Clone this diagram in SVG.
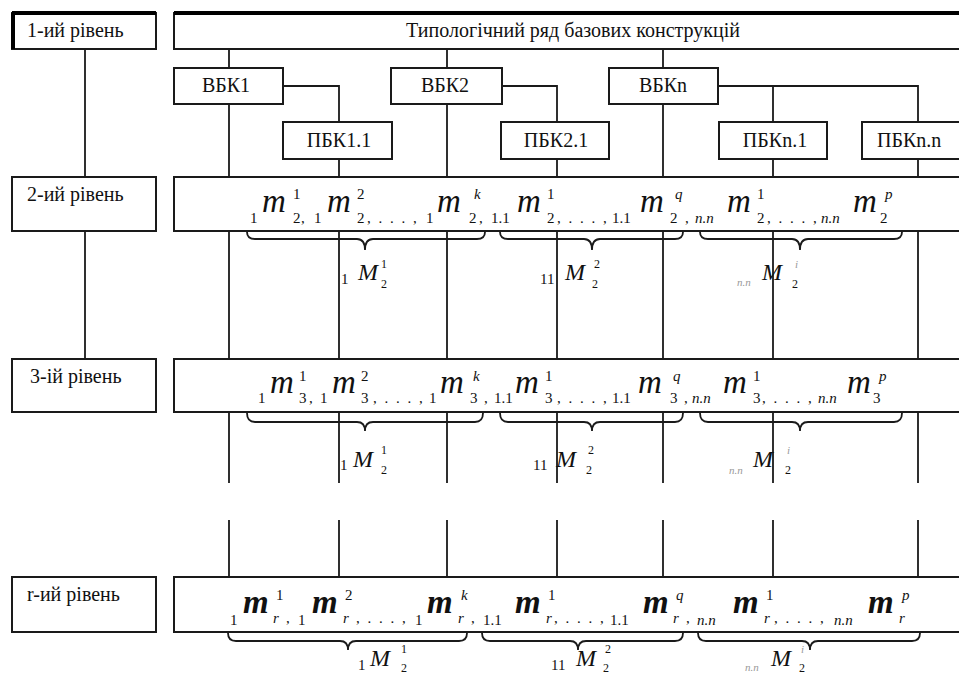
<svg xmlns="http://www.w3.org/2000/svg" width="959" height="675" viewBox="0 0 959 675">
<style>
.box{fill:#fff;stroke:#1a1a1a;stroke-width:2}
.thick{stroke:#000;stroke-width:4;fill:none}
.ln{fill:none;stroke:#1a1a1a;stroke-width:1.8}
.br{fill:none;stroke:#1a1a1a;stroke-width:1.8}
text{font-family:'Liberation Serif','DejaVu Serif','Times New Roman',serif}
.lbl{font-size:20px;fill:#111}
.ctr{text-anchor:middle}
.f{fill:#111}
.m{font-size:33px;font-style:italic}
.mb{font-size:33px;font-style:italic;font-weight:bold}
.s{font-size:15px}
.si{font-size:15px;font-style:italic}
.p{font-size:15px;letter-spacing:2px}
.M{font-size:24px;font-style:italic}
.ms{font-size:12px}
.g{font-size:11px;font-style:italic;fill:#999}
</style>
<rect width="959" height="675" fill="#fff"/>

<g id="connectors">
<path class="ln" d="M85 49V177M85 231V359"/>
<path class="ln" d="M229 49V68M447 49V68M663 49V68"/>
<path class="ln" d="M283 86H339V122M502 86H557V122M718 86H918V122M773 86V122"/>
<path class="ln" d="M229 104V177M339 159V177M447 104V177M557 159V177M663 104V177M773 159V177M918 159V177"/>
<path class="ln" d="M229 231V359M339 231V359M447 231V359M557 231V359M663 231V359M773 231V359M918 231V359"/>
<path class="ln" d="M229 412V483M339 412V483M447 412V483M557 412V483M663 412V483M773 412V483M918 412V483"/>
<path class="ln" d="M229 520V577M339 520V577M447 520V577M557 520V577M663 520V577M773 520V577M918 520V577"/>
</g>

<g id="level1">
<rect class="box" x="12" y="13" width="144" height="36"/>
<path class="thick" d="M12 13H156M13 13V49"/>
<text class="lbl" x="27" y="37" font-family="Liberation Serif, DejaVu Serif, serif">1-ий рівень</text>
</g>
<g id="level2">
<rect class="box" x="12" y="177" width="144" height="54"/>
<text class="lbl" x="27" y="201" font-family="Liberation Serif, DejaVu Serif, serif">2-ий рівень</text>
</g>
<g id="level3">
<rect class="box" x="12" y="359" width="144" height="53"/>
<text class="lbl" x="30" y="383" font-family="Liberation Serif, DejaVu Serif, serif">3-ій рівень</text>
</g>
<g id="levelr">
<rect class="box" x="12" y="577" width="144" height="55"/>
<text class="lbl" x="27" y="601" font-family="Liberation Serif, DejaVu Serif, serif">r-ий рівень</text>
</g>

<g id="title">
<rect class="box" x="174" y="13" width="800" height="36"/>
<path class="thick" d="M174 13H974"/>
<text class="lbl ctr" x="573" y="37" font-family="Liberation Serif, DejaVu Serif, serif">Типологічний ряд базових конструкцій</text>
</g>

<g id="vbk1"><rect class="box" x="174" y="68" width="109" height="36"/><text class="lbl ctr" x="226" y="92">ВБК1</text></g>
<g id="vbk2"><rect class="box" x="391" y="68" width="111" height="36"/><text class="lbl ctr" x="445" y="92">ВБК2</text></g>
<g id="vbkn"><rect class="box" x="609" y="68" width="109" height="36"/><text class="lbl ctr" x="663" y="92">ВБКn</text></g>
<g id="pbk11"><rect class="box" x="283" y="122" width="109" height="37"/><text class="lbl ctr" x="339" y="147">ПБК1.1</text></g>
<g id="pbk21"><rect class="box" x="501" y="122" width="108" height="37"/><text class="lbl ctr" x="556" y="147">ПБК2.1</text></g>
<g id="pbkn1"><rect class="box" x="719" y="122" width="108" height="37"/><text class="lbl ctr" x="775" y="147">ПБКn.1</text></g>
<g id="pbknn"><rect class="box" x="862" y="122" width="110" height="37"/><text class="lbl" x="877" y="147">ПБКn.n</text></g>

<g id="row2">
<rect class="box" x="174" y="177" width="800" height="54"/>
<text class="f">
<tspan class="s" x="250" y="223">1</tspan><tspan class="m" x="262" y="212">m</tspan><tspan class="s" x="293" y="199">1</tspan><tspan class="s" x="293" y="223">2</tspan><tspan class="s" x="301" y="223">,</tspan>
<tspan class="s" x="314" y="223">1</tspan><tspan class="m" x="327" y="212">m</tspan><tspan class="s" x="357" y="199">2</tspan><tspan class="s" x="357" y="223">2</tspan><tspan class="p" x="367" y="223">, . . . ,</tspan>
<tspan class="s" x="426" y="223">1</tspan><tspan class="m" x="437" y="212">m</tspan><tspan class="si" x="474" y="199">k</tspan><tspan class="s" x="469" y="223">2</tspan><tspan class="s" x="479" y="223">,</tspan>
<tspan class="s" x="491" y="223">1.1</tspan><tspan class="m" x="517" y="212">m</tspan><tspan class="s" x="547" y="199">1</tspan><tspan class="s" x="547" y="223">2</tspan><tspan class="p" x="557" y="223">, . . . ,</tspan>
<tspan class="s" x="612" y="223">1.1</tspan><tspan class="m" x="640" y="212">m</tspan><tspan class="si" x="675" y="199">q</tspan><tspan class="s" x="670" y="223">2</tspan><tspan class="s" x="685" y="223">,</tspan>
<tspan class="si" x="695" y="223">n.n</tspan><tspan class="m" x="727" y="212">m</tspan><tspan class="s" x="757" y="199">1</tspan><tspan class="s" x="757" y="223">2</tspan><tspan class="p" x="767" y="223">, . . . ,</tspan>
<tspan class="si" x="821" y="223">n.n</tspan><tspan class="m" x="853" y="212">m</tspan><tspan class="si" x="885" y="199">p</tspan><tspan class="s" x="880" y="223">2</tspan>
</text>
</g>

<g id="row3">
<rect class="box" x="174" y="359" width="800" height="53"/>
<text class="f">
<tspan class="s" x="258" y="403">1</tspan><tspan class="m" x="270" y="393">m</tspan><tspan class="s" x="299" y="381">1</tspan><tspan class="s" x="299" y="403">3</tspan><tspan class="s" x="309" y="403">,</tspan>
<tspan class="s" x="320" y="403">1</tspan><tspan class="m" x="332" y="393">m</tspan><tspan class="s" x="361" y="381">2</tspan><tspan class="s" x="361" y="403">3</tspan><tspan class="p" x="373" y="403">, . . . ,</tspan>
<tspan class="s" x="429" y="403">1</tspan><tspan class="m" x="440" y="393">m</tspan><tspan class="si" x="473" y="381">k</tspan><tspan class="s" x="470" y="403">3</tspan><tspan class="s" x="484" y="403">,</tspan>
<tspan class="s" x="494" y="403">1.1</tspan><tspan class="m" x="515" y="393">m</tspan><tspan class="s" x="545" y="381">1</tspan><tspan class="s" x="545" y="403">3</tspan><tspan class="p" x="557" y="403">, . . . ,</tspan>
<tspan class="s" x="612" y="403">1.1</tspan><tspan class="m" x="638" y="393">m</tspan><tspan class="si" x="673" y="381">q</tspan><tspan class="s" x="670" y="403">3</tspan><tspan class="s" x="684" y="403">,</tspan>
<tspan class="si" x="692" y="403">n.n</tspan><tspan class="m" x="723" y="393">m</tspan><tspan class="s" x="753" y="381">1</tspan><tspan class="s" x="753" y="403">3</tspan><tspan class="p" x="762" y="403">, . . . ,</tspan>
<tspan class="si" x="818" y="403">n.n</tspan><tspan class="m" x="847" y="393">m</tspan><tspan class="si" x="879" y="381">p</tspan><tspan class="s" x="873" y="403">3</tspan>
</text>
</g>

<g id="rowr">
<rect class="box" x="174" y="577" width="800" height="55"/>
<text class="f">
<tspan class="s" x="230" y="625">1</tspan><tspan class="mb" x="243" y="613">m</tspan><tspan class="s" x="276" y="600">1</tspan><tspan class="si" x="273" y="623">r</tspan><tspan class="s" x="286" y="623">,</tspan>
<tspan class="s" x="298" y="625">1</tspan><tspan class="mb" x="312" y="613">m</tspan><tspan class="s" x="345" y="600">2</tspan><tspan class="si" x="343" y="623">r</tspan><tspan class="p" x="356" y="623">, . . . ,</tspan>
<tspan class="s" x="415" y="625">1</tspan><tspan class="mb" x="427" y="613">m</tspan><tspan class="si" x="461" y="600">k</tspan><tspan class="si" x="458" y="623">r</tspan><tspan class="s" x="471" y="623">,</tspan>
<tspan class="s" x="483" y="625">1.1</tspan><tspan class="mb" x="515" y="613">m</tspan><tspan class="s" x="548" y="600">1</tspan><tspan class="si" x="546" y="623">r</tspan><tspan class="p" x="554" y="623">, . . . ,</tspan>
<tspan class="s" x="610" y="625">1.1</tspan><tspan class="mb" x="643" y="613">m</tspan><tspan class="si" x="676" y="600">q</tspan><tspan class="si" x="673" y="623">r</tspan><tspan class="s" x="686" y="623">,</tspan>
<tspan class="si" x="697" y="625">n.n</tspan><tspan class="mb" x="733" y="613">m</tspan><tspan class="s" x="766" y="600">1</tspan><tspan class="si" x="764" y="623">r</tspan><tspan class="p" x="774" y="623">, . . . ,</tspan>
<tspan class="si" x="834" y="625">n.n</tspan><tspan class="mb" x="868" y="613">m</tspan><tspan class="si" x="902" y="600">p</tspan><tspan class="si" x="899" y="623">r</tspan>
</text>
</g>

<g id="braces">
<path class="br" d="M247 232Q247 239 255 239H357Q365 239 365 250Q365 239 373 239H477Q485 239 485 232"/>
<path class="br" d="M500 232Q500 239 508 239H584Q592 239 592 250Q592 239 600 239H675Q683 239 683 232"/>
<path class="br" d="M700 232Q700 239 708 239H792Q800 239 800 250Q800 239 808 239H894Q902 239 902 232"/>
<path class="br" d="M247 413Q247 422 255 422H357Q365 422 365 431Q365 422 373 422H475Q483 422 483 413"/>
<path class="br" d="M500 413Q500 422 508 422H584Q592 422 592 431Q592 422 600 422H675Q683 422 683 413"/>
<path class="br" d="M700 413Q700 422 708 422H792Q800 422 800 431Q800 422 808 422H894Q902 422 902 413"/>
<path class="br" d="M228 633Q228 641 236 641H340Q348 641 348 650Q348 641 356 641H459Q467 641 467 633"/>
<path class="br" d="M482 633Q482 641 490 641H570Q578 641 578 650Q578 641 586 641H675Q683 641 683 633"/>
<path class="br" d="M698 633Q698 641 706 641H802Q810 641 810 650Q810 641 818 641H912Q920 641 920 633"/>
</g>

<g id="sets2">
<text class="f"><tspan class="s" x="341" y="284">1</tspan><tspan class="M" x="358" y="280">M</tspan><tspan class="ms" x="381" y="268">1</tspan><tspan class="ms" x="381" y="288">2</tspan></text>
<text class="f"><tspan class="s" x="540" y="284">11</tspan><tspan class="M" x="565" y="280">M</tspan><tspan class="ms" x="594" y="268">2</tspan><tspan class="ms" x="592" y="288">2</tspan></text>
<text class="f"><tspan class="g" x="737" y="286">n.n</tspan><tspan class="M" x="762" y="280">M</tspan><tspan class="g" x="795" y="268">i</tspan><tspan class="ms" x="792" y="288">2</tspan></text>
</g>
<g id="sets3">
<text class="f"><tspan class="s" x="340" y="470">1</tspan><tspan class="M" x="353" y="467">M</tspan><tspan class="ms" x="381" y="454">1</tspan><tspan class="ms" x="381" y="474">2</tspan></text>
<text class="f"><tspan class="s" x="533" y="470">11</tspan><tspan class="M" x="556" y="467">M</tspan><tspan class="ms" x="588" y="454">2</tspan><tspan class="ms" x="586" y="474">2</tspan></text>
<text class="f"><tspan class="g" x="729" y="474">n.n</tspan><tspan class="M" x="753" y="467">M</tspan><tspan class="g" x="787" y="454">i</tspan><tspan class="ms" x="785" y="474">2</tspan></text>
</g>
<g id="setsr">
<text class="f"><tspan class="s" x="358" y="670">1</tspan><tspan class="M" x="370" y="666">M</tspan><tspan class="ms" x="401" y="653">1</tspan><tspan class="ms" x="401" y="672">2</tspan></text>
<text class="f"><tspan class="s" x="551" y="670">11</tspan><tspan class="M" x="576" y="666">M</tspan><tspan class="ms" x="605" y="653">2</tspan><tspan class="ms" x="603" y="672">2</tspan></text>
<text class="f"><tspan class="g" x="745" y="671">n.n</tspan><tspan class="M" x="771" y="666">M</tspan><tspan class="g" x="801" y="653">i</tspan><tspan class="ms" x="799" y="672">2</tspan></text>
</g>
</svg>
